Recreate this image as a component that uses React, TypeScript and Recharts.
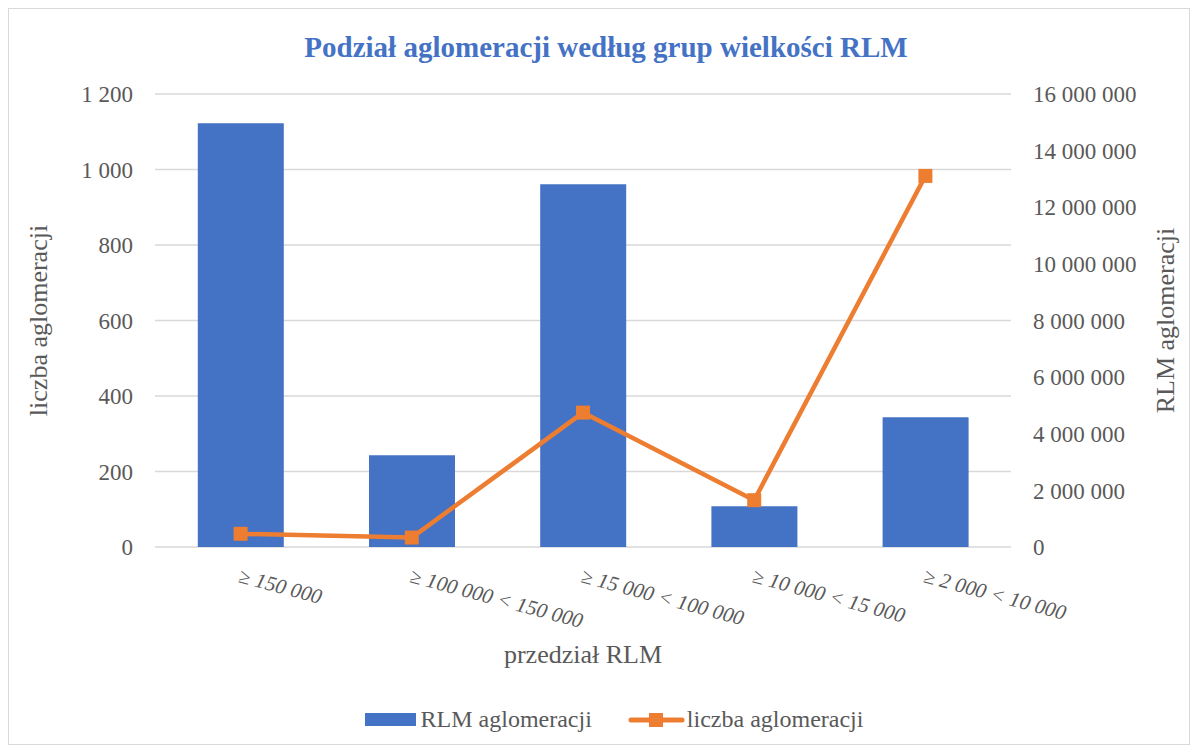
import {
    Bar,
    CartesianGrid,
    ComposedChart,
    Legend,
    Line,
    XAxis,
    YAxis,
} from 'recharts';

const categories = [
    '≥ 150 000',
    '≥ 100 000 < 150 000',
    '≥ 15 000 < 100 000',
    '≥ 10 000 < 15 000',
    '≥ 2 000 < 10 000',
];
const rlmValues = [14970000, 3240000, 12810000, 1440000, 4580000];
const countValues = [35, 25, 356, 124, 983];
const leftTicks = [0, 200, 400, 600, 800, 1000, 1200];
const rightTicks = [0, 2000000, 4000000, 6000000, 8000000, 10000000, 12000000, 14000000, 16000000];

const BLUE = '#4472C4';
const ORANGE = '#ED7D31';
const GREY = '#595959';
const FONT = '"Liberation Serif", "Times New Roman", serif';

const fmt = (v: number) => String(v).replace(/\B(?=(\d{3})+(?!\d))/g, ' ');

const chartData = categories.map((c, i) => ({
    name: c,
    rlm: rlmValues[i],
    count: countValues[i],
}));

function XTick({ x, y, payload }: any) {
    const tx = x - 3;
    const ty = y + 35;
    return (
        <text
            x={tx}
            y={ty}
            transform={`rotate(15 ${tx} ${ty})`}
            fill={GREY}
            fontSize={21}
            fontStyle="italic"
            fontFamily={FONT}
            textAnchor="start"
        >
            {payload.value}
        </text>
    );
}

function SquareDot({ cx, cy }: any) {
    if (cx == null || cy == null) return null;
    return <rect x={cx - 7} y={cy - 7} width={14} height={14} fill={ORANGE} />;
}

function LegendContent() {
    return (
        <div
            style={{
                display: 'flex',
                justifyContent: 'center',
                alignItems: 'center',
                paddingLeft: 30,
                fontFamily: FONT,
                fontSize: 24,
                color: GREY,
            }}
        >
            <span style={{ display: 'inline-block', width: 51, height: 13, background: BLUE, marginRight: 5 }} />
            <span style={{ marginRight: 36 }}>RLM aglomeracji</span>
            <svg width={57} height={16} style={{ marginRight: 2 }}>
                <line x1={3} y1={8} x2={54} y2={8} stroke={ORANGE} strokeWidth={5} strokeLinecap="round" />
                <rect x={21} y={1} width={14} height={14} fill={ORANGE} />
            </svg>
            <span>liczba aglomeracji</span>
        </div>
    );
}

export default function App() {
    return (
        <div
            style={{
                position: 'relative',
                width: 1182,
                height: 737,
                border: '1px solid #d9d9d9',
                boxSizing: 'border-box',
                background: '#fff',
            }}
        >
            <div
                style={{
                    position: 'absolute',
                    left: 0,
                    width: 1180,
                    top: 22,
                    textAlign: 'center',
                    paddingLeft: 14,
                    boxSizing: 'border-box',
                    fontFamily: FONT,
                    fontWeight: 'bold',
                    fontSize: 29,
                    color: BLUE,
                }}
            >
                Podział aglomeracji według grup wielkości RLM
            </div>
            <ComposedChart
                width={1180}
                height={735}
                data={chartData}
                margin={{ top: 85, right: 0, bottom: 0, left: 0 }}
                barCategoryGap="25%"
                style={{ fontFamily: FONT }}
            >
                <CartesianGrid yAxisId="left" vertical={false} stroke="#d9d9d9" strokeWidth={1.5} />
                <XAxis
                    dataKey="name"
                    axisLine={false}
                    tickLine={false}
                    tickSize={0}
                    tickMargin={0}
                    height={197}
                    interval={0}
                    tick={<XTick />}
                    label={{
                        value: 'przedział RLM',
                        position: 'insideTop',
                        offset: 98,
                        fill: GREY,
                        fontSize: 26,
                        fontFamily: FONT,
                    }}
                />
                <YAxis
                    yAxisId="left"
                    width={146}
                    domain={[0, 1200]}
                    ticks={leftTicks}
                    axisLine={false}
                    tickLine={false}
                    tickSize={0}
                    tickMargin={22}
                    tickFormatter={fmt}
                    tick={{ fill: GREY, fontSize: 23, fontFamily: FONT }}
                    label={{
                        value: 'liczba aglomeracji',
                        angle: -90,
                        position: 'insideLeft',
                        offset: 29,
                        fill: GREY,
                        fontSize: 26,
                        fontFamily: FONT,
                        style: { textAnchor: 'middle' },
                    }}
                />
                <YAxis
                    yAxisId="right"
                    orientation="right"
                    width={178}
                    domain={[0, 16000000]}
                    ticks={rightTicks}
                    axisLine={false}
                    tickLine={false}
                    tickSize={0}
                    tickMargin={22}
                    tickFormatter={fmt}
                    tick={{ fill: GREY, fontSize: 23, fontFamily: FONT }}
                    label={{
                        value: 'RLM aglomeracji',
                        angle: -90,
                        position: 'insideRight',
                        offset: 24,
                        fill: GREY,
                        fontSize: 26,
                        fontFamily: FONT,
                        style: { textAnchor: 'middle' },
                    }}
                />
                <Legend
                    verticalAlign="middle"
                    layout="horizontal"
                    wrapperStyle={{ top: 697, left: 0, width: 1180 }}
                    content={<LegendContent />}
                />
                <Bar yAxisId="right" dataKey="rlm" fill={BLUE} isAnimationActive={false} />
                <Line
                    yAxisId="left"
                    dataKey="count"
                    type="linear"
                    stroke={ORANGE}
                    strokeWidth={4.5}
                    strokeLinejoin="round"
                    dot={<SquareDot />}
                    activeDot={false}
                    isAnimationActive={false}
                />
            </ComposedChart>
        </div>
    );
}
